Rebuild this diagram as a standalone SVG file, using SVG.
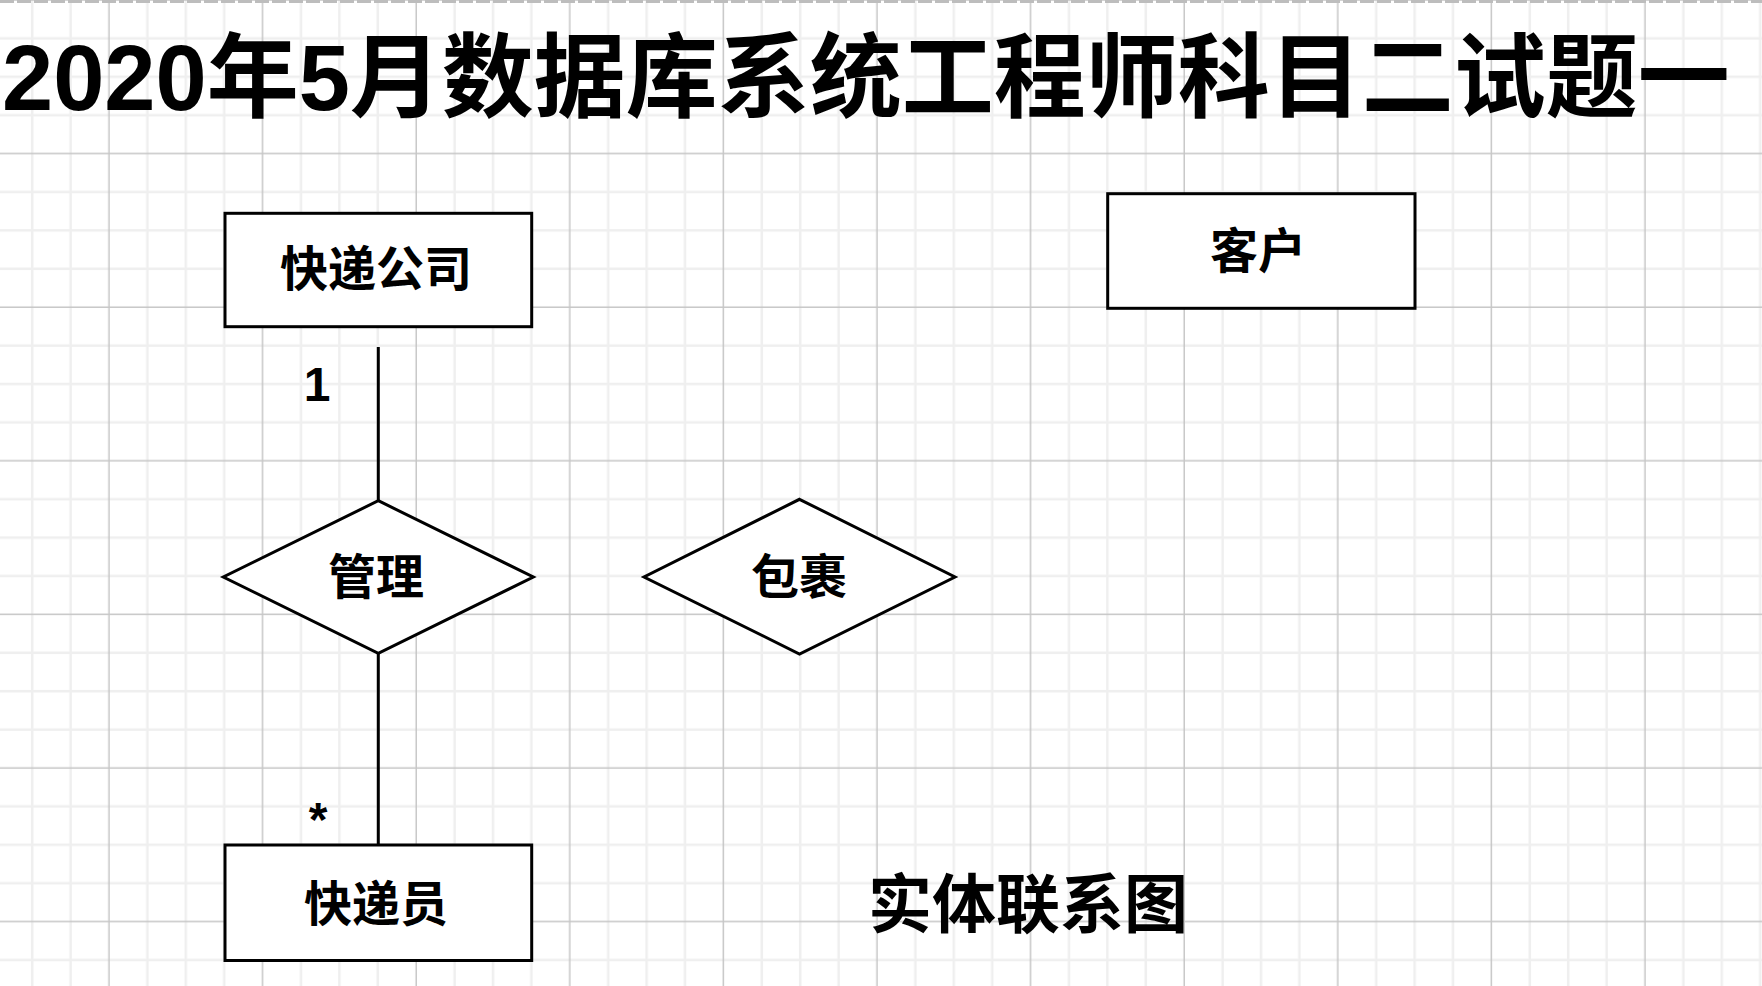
<svg xmlns="http://www.w3.org/2000/svg" width="1762" height="986" viewBox="0 0 1762 986">
  <style>
    .ent { fill: #ffffff; stroke: #000000; stroke-width: 3; }
    .rel { fill: #ffffff; stroke: #000000; stroke-width: 3; stroke-linejoin: miter; }
    .conn { stroke: #000000; stroke-width: 3; fill: none; }
    .lbl { font-family: "Liberation Sans", "Noto Sans CJK SC", sans-serif; font-weight: bold; font-size: 48px; fill: #000000; text-anchor: middle; }
    .title { font-family: "Liberation Sans", "Noto Sans CJK SC", sans-serif; font-weight: bold; font-size: 92px; fill: #000000; }
    .cap { font-family: "Liberation Sans", "Noto Sans CJK SC", sans-serif; font-weight: bold; font-size: 64px; fill: #000000; text-anchor: middle; }
    .minor { stroke: #efefef; stroke-width: 2.5; }
    .major { stroke: #c6c6c6; stroke-width: 1.5; }
  </style>
  <defs>
    <pattern id="grid" patternUnits="userSpaceOnUse" x="89.8" y="-19.2" width="153.6" height="153.6">
      <line class="minor" x1="57.6" y1="0" x2="57.6" y2="153.6"/>
      <line class="minor" x1="96" y1="0" x2="96" y2="153.6"/>
      <line class="minor" x1="134.4" y1="0" x2="134.4" y2="153.6"/>
      <line class="minor" x1="0" y1="57.6" x2="153.6" y2="57.6"/>
      <line class="minor" x1="0" y1="96" x2="153.6" y2="96"/>
      <line class="minor" x1="0" y1="134.4" x2="153.6" y2="134.4"/>
      <line class="major" x1="19.2" y1="0" x2="19.2" y2="153.6"/>
      <line class="major" x1="0" y1="19.2" x2="153.6" y2="19.2"/>
    </pattern>
  </defs>

  <rect x="0" y="0" width="1762" height="986" fill="#ffffff"/>
  <rect x="0" y="0" width="1762" height="986" fill="url(#grid)"/>
  <line x1="0" y1="1.5" x2="1762" y2="1.5" stroke="#bdbdbd" stroke-width="3" stroke-dasharray="14 3"/>

  <text id="title" class="title" x="2" y="110">2020年5月数据库系统工程师科目二试题一</text>

  <g id="connectors">
    <line class="conn" x1="378.3" y1="347" x2="378.3" y2="500.7"/>
    <line class="conn" x1="378.3" y1="653.3" x2="378.3" y2="845"/>
    <text class="lbl" x="317" y="400.7">1</text>
    <text class="lbl" x="318" y="836">*</text>
  </g>

  <g id="node-company">
    <rect class="ent" x="225" y="213.3" width="306.7" height="113.4"/>
    <text class="lbl" x="376" y="286">快递公司</text>
  </g>

  <g id="node-manage">
    <polygon class="rel" points="378.3,500.7 533.3,577 378.3,653.3 223.3,577"/>
    <text class="lbl" x="376" y="594">管理</text>
  </g>

  <g id="node-parcel">
    <polygon class="rel" points="799.5,499.3 955,577 799.5,654 644,577"/>
    <text class="lbl" x="799" y="594">包裹</text>
  </g>

  <g id="node-courier">
    <rect class="ent" x="225" y="845" width="306.7" height="115.5"/>
    <text class="lbl" x="376" y="921">快递员</text>
  </g>

  <g id="node-customer">
    <rect class="ent" x="1107.7" y="193.7" width="307.3" height="114.6"/>
    <text class="lbl" x="1258" y="268">客户</text>
  </g>

  <text id="caption" class="cap" x="1028" y="927">实体联系图</text>
</svg>
